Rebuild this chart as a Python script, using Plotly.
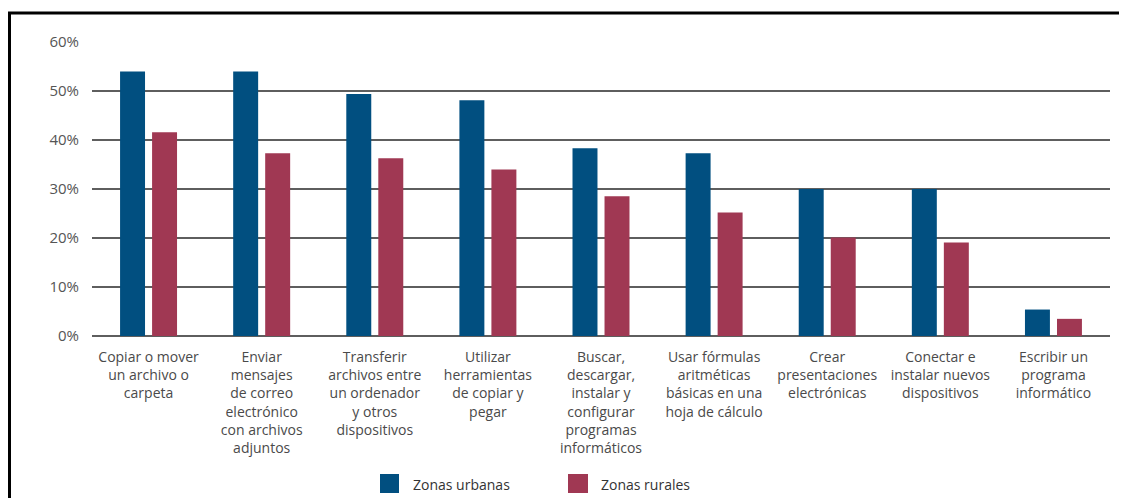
import plotly.graph_objects as go

categories = [
    "Copiar o mover<br>un archivo o<br>carpeta",
    "Enviar<br>mensajes<br>de correo<br>electrónico<br>con archivos<br>adjuntos",
    "Transferir<br>archivos entre<br>un ordenador<br>y otros<br>dispositivos",
    "Utilizar<br>herramientas<br>de copiar y<br>pegar",
    "Buscar,<br>descargar,<br>instalar y<br>configurar<br>programas<br>informáticos",
    "Usar fórmulas<br>aritméticas<br>básicas en una<br>hoja de cálculo",
    "Crear<br>presentaciones<br>electrónicas",
    "Conectar e<br>instalar nuevos<br>dispositivos",
    "Escribir un<br>programa<br>informático",
]
urbanas = [54.0, 54.0, 49.4, 48.1, 38.3, 37.3, 30.0, 30.0, 5.4]
rurales = [41.6, 37.3, 36.3, 34.0, 28.5, 25.2, 20.1, 19.1, 3.5]
series_names = ["Zonas urbanas", "Zonas rurales"]
y_ticks = [0, 10, 20, 30, 40, 50, 60]
y_ticktext = [f"{v}%" for v in y_ticks]

C_URB = "#014f80"
C_RUR = "#a03853"
FONT = "Open Sans"

fig = go.Figure()
fig.add_trace(go.Bar(x=categories, y=urbanas, name=series_names[0],
                     marker=dict(color=C_URB, line=dict(width=0))))
fig.add_trace(go.Bar(x=categories, y=rurales, name=series_names[1],
                     marker=dict(color=C_RUR, line=dict(width=0))))

OFF = 8  # page body margin
W, H = 1127 - OFF, 498 - OFF
L, R, T, B = 92 - OFF, 17, 42 - OFF, 162
pw, ph = W - L - R, H - T - B

def px(x):  # page pixel -> paper
    return (x - OFF - L) / pw

def py(y):
    return (H - B - (y - OFF)) / ph

fig.update_layout(
    width=W, height=H,
    margin=dict(l=L, r=R, t=T, b=B, pad=0),
    paper_bgcolor="white", plot_bgcolor="white",
    barmode="group", bargap=0.434, bargroupgap=0.22,
    showlegend=False,
    font=dict(family=FONT, color="#4a4a4a"),
    xaxis=dict(showgrid=False, showline=False, ticks="", zeroline=False,
               tickfont=dict(size=14, color="#4a4a4a", family=FONT),
               tickangle=0, automargin=False, ticklabelstandoff=11),
    yaxis=dict(range=[0, 60], tickmode="array", tickvals=y_ticks, ticktext=y_ticktext,
               showgrid=True, gridcolor="#5e5e5e", gridwidth=2,
               zeroline=True, zerolinecolor="#5e5e5e", zerolinewidth=2,
               showline=False, ticks="", ticklabelstandoff=12,
               tickfont=dict(size=15, color="#555555", family=FONT),
               automargin=False),
)

shapes = [
    dict(type="line", xref="paper", yref="paper", x0=px(8), x1=px(1127), y0=py(13), y1=py(13),
         line=dict(color="black", width=3)),
    dict(type="line", xref="paper", yref="paper", x0=px(9.5), x1=px(9.5), y0=py(12), y1=py(498),
         line=dict(color="black", width=3)),
    dict(type="rect", xref="paper", yref="paper", x0=px(380), x1=px(399), y0=py(474), y1=py(493),
         fillcolor=C_URB, line=dict(width=0)),
    dict(type="rect", xref="paper", yref="paper", x0=px(568), x1=px(588), y0=py(474), y1=py(493),
         fillcolor=C_RUR, line=dict(width=0)),
]
fig.update_layout(shapes=shapes)

fig.add_annotation(xref="paper", yref="paper", x=px(411), y=py(484), text=series_names[0],
                   showarrow=False, xanchor="left", yanchor="middle",
                   font=dict(size=14, color="#333333", family=FONT))
fig.add_annotation(xref="paper", yref="paper", x=px(599), y=py(484), text=series_names[1],
                   showarrow=False, xanchor="left", yanchor="middle",
                   font=dict(size=14, color="#333333", family=FONT))

fig.write_html("out.html")
